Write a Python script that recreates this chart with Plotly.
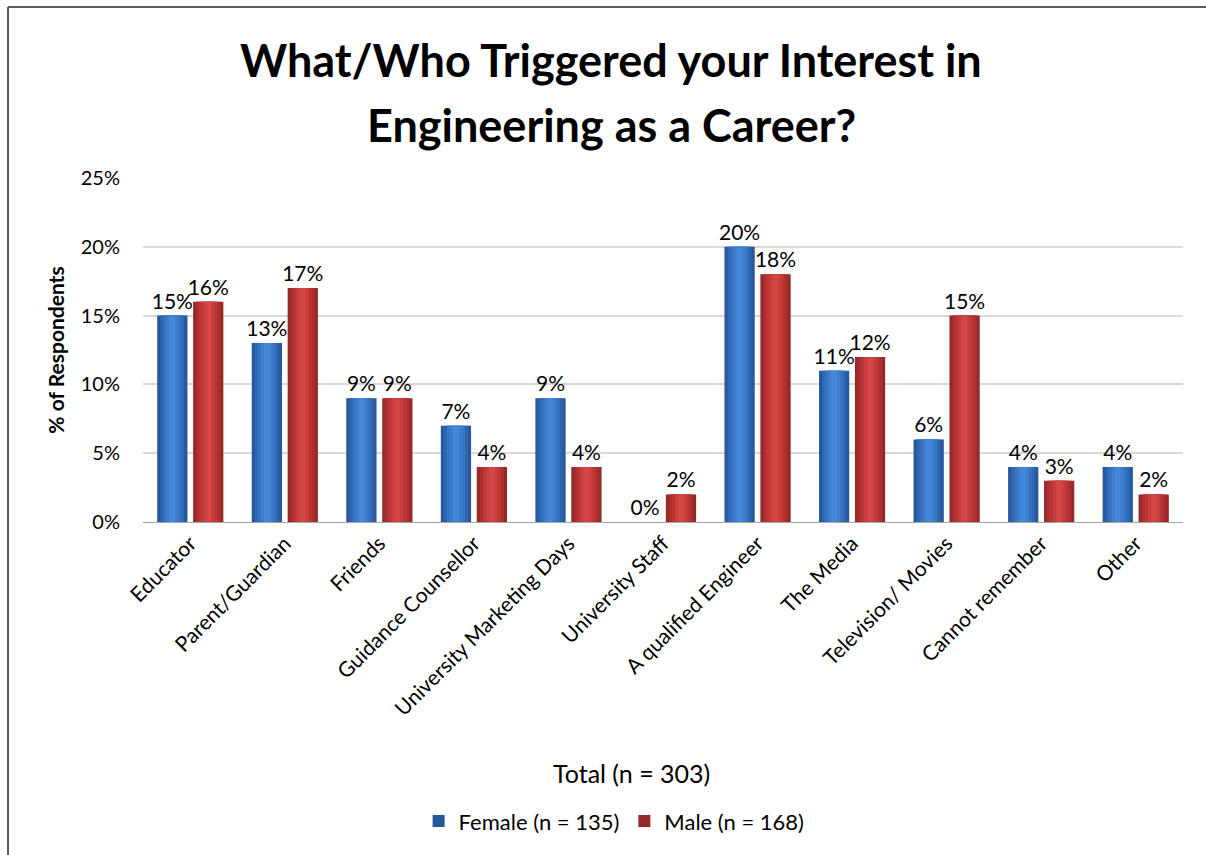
import plotly.graph_objects as go

categories = ["Educator", "Parent/Guardian", "Friends", "Guidance Counsellor",
              "University Marketing Days", "University Staff", "A qualified Engineer",
              "The Media", "Television/ Movies", "Cannot remember", "Other"]
female = [15, 13, 9, 7, 9, 0, 20, 11, 6, 4, 4]
male = [16, 17, 9, 4, 4, 2, 18, 12, 15, 3, 2]
y_ticks = [0, 5, 10, 15, 20, 25]

FONT = "Lato"
BAR_W = 0.32
# centre of each bar relative to its category (in category units)
series = [
    dict(name="Female (n = 135)", values=female, centre=-0.19,
         shades=["#28579a", "#2f66b0", "#3673c0", "#3c7dcc", "#4487d6"]),
    dict(name="Male (n = 168)", values=male, centre=0.19,
         shades=["#972828", "#ab2f2f", "#bc3636", "#c83d3d", "#d24646"]),
]
layer_frac = [1.0, 0.8, 0.6, 0.4, 0.2]

fig = go.Figure()
for s in series:
    for i, (frac, col) in enumerate(zip(layer_frac, s["shades"])):
        w = BAR_W * frac
        first = i == 0
        fig.add_trace(go.Bar(
            name=s["name"], x=categories, y=s["values"],
            width=w, offset=s["centre"] - w / 2,
            marker=dict(color=col, line=dict(width=0)),
            showlegend=first, hoverinfo="skip" if not first else None,
            text=[f"{v}%" for v in s["values"]] if first else None,
            textposition="outside" if first else "none",
            textfont=dict(size=21, color="#000000", family=FONT),
            constraintext="none", cliponaxis=False,
        ))

fig.update_layout(
    width=1206, height=855,
    paper_bgcolor="white", plot_bgcolor="white",
    barmode="overlay",
    margin=dict(l=143, r=23, t=178, b=333, autoexpand=False),
    font=dict(family=FONT, size=20, color="#000000"),
    showlegend=True,
    legend=dict(orientation="h", x=0.453, xanchor="center", y=-0.87, yanchor="middle",
                font=dict(size=22, family=FONT), traceorder="normal",
                itemwidth=30),
    xaxis=dict(tickangle=-45, tickfont=dict(size=21, family=FONT),
               showline=True, linecolor="#a6a6a6", linewidth=1,
               ticks="", automargin=False, range=[-0.5, 10.5]),
    yaxis=dict(range=[0, 25], tickvals=y_ticks, ticktext=[f"{v}%" for v in y_ticks],
               showgrid=True, gridcolor="#d9d9d9", gridwidth=2,
               zeroline=False, showline=False, ticks="", ticklabelstandoff=22,
               tickfont=dict(size=20, family=FONT), automargin=False,
               title=dict(text="<b>% of Respondents</b>", font=dict(size=21, family=FONT),
                          standoff=10)),
    annotations=[
        dict(text="<b>What/Who Triggered your Interest in</b>", xref="paper", yref="paper",
             x=0.45, y=(522 - 60) / 344, xanchor="center", yanchor="middle",
             showarrow=False, font=dict(size=45, family=FONT)),
        dict(text="<b>Engineering as a Career?</b>", xref="paper", yref="paper",
             x=0.45, y=(522 - 125) / 344, xanchor="center", yanchor="middle",
             showarrow=False, font=dict(size=45, family=FONT)),
        dict(text="Total (n = 303)", xref="paper", yref="paper",
             x=0.470, y=(522 - 773) / 344, xanchor="center", yanchor="middle",
             showarrow=False, font=dict(size=25, family=FONT)),
    ],
    shapes=[
        dict(type="line", xref="paper", yref="paper", x0=-0.1298, x1=1.1, y0=1.497, y1=1.497,
             line=dict(color="#595959", width=2)),
        dict(type="line", xref="paper", yref="paper", x0=-0.1298, x1=-0.1298, y0=1.497, y1=-1.1,
             line=dict(color="#595959", width=2)),
    ],
)

fig.write_html("out.html")
